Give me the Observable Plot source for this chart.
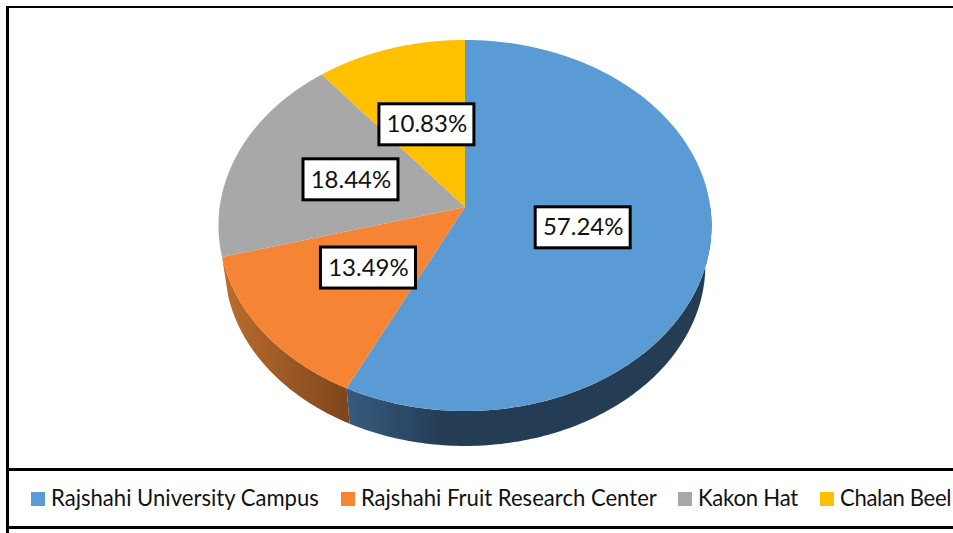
<!DOCTYPE html>
<html><head><meta charset="utf-8">
<script src="https://cdn.jsdelivr.net/npm/d3@7"></script>
<script src="https://cdn.jsdelivr.net/npm/@observablehq/plot@0.6"></script>
<style>
html,body{margin:0;padding:0;background:#fff;overflow:hidden}
#page{position:relative;width:953px;height:533px;overflow:hidden}
#frame{position:absolute;left:6px;top:6px;width:960px;height:540px;border-left:3px solid #000;border-top:2px solid #000;box-sizing:border-box}
#chart{position:absolute;left:0;top:0}
#chart svg{display:block;background:transparent}
#legend{position:absolute;left:8px;top:468px;width:960px;height:61px;box-sizing:border-box;border-top:3px solid #000;border-bottom:3px solid #000;border-left:1px solid #000;background:#fff;
 display:flex;align-items:center;padding-left:22px;font:22.1px Lato,sans-serif;color:#111;white-space:nowrap}
.item{display:flex;align-items:center;margin-right:22px}
.item:nth-child(2){margin-right:21px}
.item:nth-child(3){letter-spacing:-.2px}
.item:nth-child(4){letter-spacing:-.35px}
.item .t{position:relative;top:-1px}
.sw{width:14px;height:14px;margin-right:6px;flex:none}
</style></head>
<body><div id="page"><div id="frame"></div><div id="chart"></div><div id="legend"></div></div>
<script>
const categories = ["Rajshahi University Campus", "Rajshahi Fruit Research Center", "Kakon Hat", "Chalan Beel"];
const shares = [57.24, 13.49, 18.44, 10.83];
const colors = ["#5B9BD5", "#F58434", "#A8A8A8", "#FFC000"];
const labelRadii = [0.485, 0.5, 0.5, 0.5];

// 3D tilt of the pie
const persp = 0.0997, depth = 0.2177, baseScale = 0.975;
const project = (deg, f = 1) => {
  const a = deg * Math.PI / 180, u = f * Math.sin(a), v = f * Math.cos(a), w = 1 + persp * v;
  return {x: u / w, y: v / w};
};
const arc = (a0, a1) => d3.range(0, 121).map(i => project(a0 + (a1 - a0) * i / 120));
const base = p => ({x: p.x * baseScale, y: p.y * baseScale - depth});

let acc = 0;
const slices = shares.map((s, i) => {
  const a0 = acc * 3.6; acc += s; const a1 = acc * 3.6;
  return {label: s.toFixed(2) + "%", color: colors[i], a0, a1, mid: (a0 + a1) / 2};
});
const topFaces = slices.map(s => [{x: 0, y: 0}, ...arc(s.a0, s.a1), {x: 0, y: 0}]);
const wall = (a0, a1) => { const t = arc(a0, a1); return [...t, ...t.slice().reverse().map(base)]; };
const blueWall = wall(90, slices[0].a1);
const orangeWall = wall(slices[1].a0, slices[1].a1);
const labels = slices.map((s, i) => ({...project(s.mid, labelRadii[i]), label: s.label}));

const grads = () => {
  const ns = "http://www.w3.org/2000/svg";
  const defs = document.createElementNS(ns, "defs");
  defs.innerHTML = `<linearGradient id="gb" x1="0" x2="1" y1="0" y2="0"><stop offset="0" stop-color="#375B7F"/><stop offset="0.26" stop-color="#243D55"/><stop offset="1" stop-color="#243D55"/></linearGradient>
  <linearGradient id="go" x1="0" x2="1" y1="0" y2="0"><stop offset="0" stop-color="#BC6D2E"/><stop offset="1" stop-color="#7E451B"/></linearGradient>`;
  return defs;
};
const poly = (pts, fill) => Plot.line(pts, {x: "x", y: "y", fill, stroke: null, curve: "linear"});

const plot = Plot.plot({
  width: 953, height: 468, margin: 0,
  style: {background: "transparent"},
  x: {domain: [-464.5 / 245.3, 488.5 / 245.3], range: [0, 953], axis: null},
  y: {domain: [-261.5 / 183.7, 206.5 / 183.7], range: [468, 0], axis: null},
  marks: [
    grads,
    poly(blueWall, "url(#gb)"),
    poly(orangeWall, "url(#go)"),
    ...topFaces.map((f, i) => poly(f, colors[i])),
    Plot.rect(labels, {x1: "x", x2: "x", y1: "y", y2: "y", insetLeft: -46.5, insetRight: -48.5, insetTop: -20, insetBottom: -21, fill: "#fff", stroke: "#000", strokeWidth: 3}),
    Plot.text(labels, {x: "x", y: "y", dx: 1, dy: 0.5, text: "label", fill: "#111", fontSize: 24, fontFamily: "Lato, sans-serif", textAnchor: "middle", lineAnchor: "middle"})
  ]
});
document.getElementById("chart").append(plot);
const lg = d3.select("#legend");
categories.forEach((c, i) => {
  const it = lg.append("div").attr("class", "item");
  it.append("span").attr("class", "sw").style("background", colors[i]);
  it.append("span").attr("class", "t").text(c);
});
</script></body></html>
